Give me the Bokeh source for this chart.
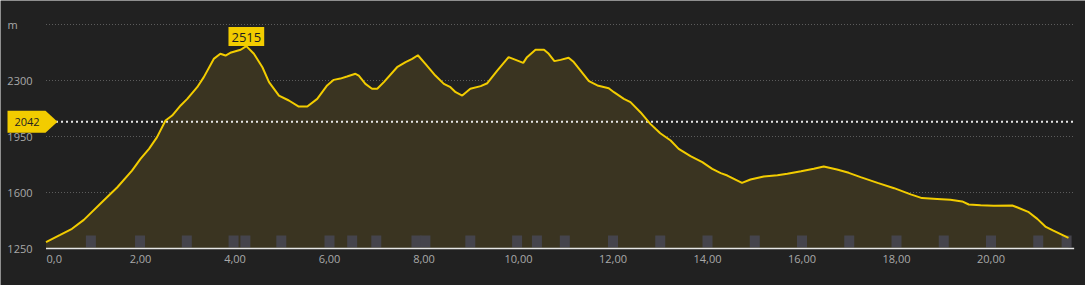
from bokeh.plotting import figure
from bokeh.models import Range1d, Label, PolyAnnotation, ColumnDataSource
from bokeh.core.properties import value
from bokeh.embed import file_html
from bokeh.resources import INLINE

# distance (km) and elevation (m)
km = [0.0, 0.30, 0.55, 0.80, 1.22, 1.51, 1.82, 2.00, 2.18, 2.35, 2.53, 2.67, 2.85, 2.99,
      3.20, 3.34, 3.55, 3.69, 3.80, 3.90, 4.12, 4.24, 4.40, 4.58, 4.72, 4.93, 5.14, 5.35,
      5.53, 5.74, 5.95, 6.09, 6.23, 6.37, 6.55, 6.62, 6.76, 6.90, 7.01, 7.15, 7.43, 7.61,
      7.75, 7.87, 8.03, 8.24, 8.42, 8.56, 8.67, 8.81, 8.98, 9.20, 9.34, 9.55, 9.79, 9.94,
      10.10, 10.18, 10.36, 10.54, 10.64, 10.76, 10.89, 11.06, 11.17, 11.49, 11.67, 11.91,
      12.02, 12.23, 12.37, 12.58, 12.79, 12.90, 13.00, 13.22, 13.39, 13.64, 13.89, 14.10,
      14.28, 14.42, 14.73, 14.91, 15.19, 15.48, 15.69, 15.98, 16.25, 16.46, 16.74, 16.99,
      17.24, 17.60, 17.95, 18.30, 18.54, 18.86, 19.14, 19.39, 19.53, 19.78, 20.06, 20.45,
      20.55, 20.80, 20.98, 21.15, 21.32, 21.64]
elev = [1290, 1335, 1373, 1429, 1550, 1633, 1737, 1810, 1873, 1946, 2050, 2081, 2144, 2185,
        2258, 2321, 2435, 2467, 2456, 2473, 2492, 2515, 2467, 2383, 2290, 2206, 2175, 2137,
        2137, 2185, 2269, 2304, 2312, 2325, 2342, 2331, 2279, 2248, 2248, 2290, 2383, 2415,
        2435, 2458, 2404, 2331, 2279, 2258, 2227, 2206, 2248, 2265, 2283, 2362, 2446, 2429,
        2410, 2446, 2492, 2492, 2467, 2421, 2429, 2442, 2415, 2296, 2269, 2252,
        2227, 2185, 2165, 2102, 2029, 1998, 1970, 1925, 1873, 1827, 1790, 1748,
        1721, 1706, 1660, 1681, 1700, 1708, 1717, 1733, 1748, 1762, 1744, 1723,
        1696, 1660, 1627, 1588, 1565, 1560, 1554, 1544, 1525, 1521, 1517, 1519,
        1508, 1477, 1435, 1387, 1362, 1317]

# waypoint / km markers along the bottom
markers = [0.95, 1.99, 2.98, 3.97, 4.22, 4.98, 6.0, 6.48, 6.99, 7.84, 8.03, 8.98, 9.97,
           10.39, 10.98, 12.0, 13.0, 14.0, 15.0, 16.0, 17.0, 18.0, 19.0, 20.0, 21.0, 21.6]

x_ticks = [0, 2, 4, 6, 8, 10, 12, 14, 16, 18, 20]
x_labels = ["0,0", "2,00", "4,00", "6,00", "8,00", "10,00", "12,00", "14,00", "16,00",
            "18,00", "20,00"]
y_ticks = [1250, 1600, 1950, 2300]
y_top = 2650
y_unit = "m"
ref_level = 2042
peak_km, peak_elev = 4.24, 2515

PX_KM = 47.25          # pixels per km
PX_M = 0.16            # pixels per metre
X_START = -45.5 / PX_KM
X_END = 21.76
Y_BASE = 1250

BG = "#212121"
YEL = "#f2cc00"
FILL = "#3a3421"
TXT = "#a9a9a9"
FONT = "Open Sans"

p = figure(width=1085, height=285, output_backend="svg", toolbar_location=None,
           x_range=Range1d(X_START, X_START + 1085 / PX_KM),
           y_range=Range1d(Y_BASE - 37 / PX_M, y_top + 24 / PX_M),
           min_border_left=0, min_border_right=0, min_border_top=0, min_border_bottom=0,
           background_fill_color=BG, border_fill_color=BG, outline_line_color=None)
p.axis.visible = False
p.grid.grid_line_color = None

# grid lines (from the plot start)
grid_y = y_ticks[1:] + [y_top]
p.segment(x0=[0] * len(grid_y), x1=[X_END] * len(grid_y), y0=grid_y, y1=grid_y,
          line_color="#5c5c5c", line_dash="1 2", line_width=1)

p.varea(x=km, y1=Y_BASE, y2=elev, fill_color=FILL)
p.rect(x=markers, y=Y_BASE + 44, width=10, height=12, width_units="screen",
       height_units="screen", fill_color="#45444c", line_color=None)

# reference level line
p.segment(x0=[0], x1=[X_END], y0=[ref_level], y1=[ref_level],
          line_color="#e8e8e8", line_dash="2 3", line_width=2)

p.line(x=km, y=elev, line_color=YEL, line_width=2)

# baseline (axis line)
p.segment(x0=[0], x1=[X_END], y0=[Y_BASE], y1=[Y_BASE], line_color="#e6e6e6", line_width=1.5)

# y tick labels
ysrc = ColumnDataSource(dict(x=[0] * len(y_ticks), y=y_ticks, t=[str(v) for v in y_ticks]))
p.text(x="x", y="y", text="t", source=ysrc, x_offset=-13.5, text_align="right",
       text_baseline="middle", text_color=TXT, text_font=value(FONT), text_font_size="11px")
p.text(x=[0], y=[y_top], text=[y_unit], x_offset=-38.5, text_align="left",
       text_baseline="middle", text_color=TXT, text_font=value(FONT), text_font_size="11px")

# x tick labels (first one left-aligned as in the original)
xsrc = ColumnDataSource(dict(x=x_ticks[1:], y=[Y_BASE] * (len(x_ticks) - 1), t=x_labels[1:]))
p.text(x="x", y="y", text="t", source=xsrc, y_offset=10, text_align="center",
       text_baseline="middle", text_color=TXT, text_font=value(FONT), text_font_size="11px")
p.text(x=[x_ticks[0]], y=[Y_BASE], text=[x_labels[0]], x_offset=0.5, y_offset=10,
       text_align="left", text_baseline="middle", text_color=TXT, text_font=value(FONT),
       text_font_size="11px")

# reference badge
half = 11 / PX_M
p.add_layout(PolyAnnotation(xs=[7, 45, 57, 45, 7],
                            ys=[ref_level + half, ref_level + half, ref_level,
                                ref_level - half, ref_level - half],
                            xs_units="screen", ys_units="data",
                            fill_color=YEL, fill_alpha=1, line_color=None))
p.add_layout(Label(x=14, y=ref_level, x_units="screen", text=str(ref_level),
                   text_color="#222222", text_font=FONT, text_font_size="11px",
                   text_baseline="middle", text_align="left"))

# peak badge
p.add_layout(Label(x=peak_km, y=peak_elev, text=str(peak_elev), text_color="#1e1e1e",
                   text_font=FONT, text_font_size="13px", text_align="center",
                   text_baseline="bottom", background_fill_color=YEL,
                   background_fill_alpha=1,
                   padding=dict(left=3, right=3, top=6, bottom=4)))

open("out.html", "w").write(file_html(p, INLINE))
